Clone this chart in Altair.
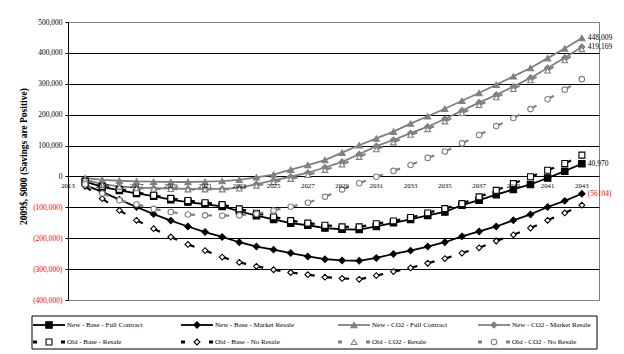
import altair as alt
import pandas as pd

years = list(range(2014, 2044))
series_names = [
    "New - Base - Full Contract", "New - Base - Market Resale",
    "New - CO2 - Full Contract", "New - CO2 - Market Resale",
    "Old - Base - Resale", "Old - Base - No Resale",
    "Old - CO2 - Resale", "Old - CO2 - No Resale",
]

new_base_full = [-17000, -34000, -45000, -55000, -64000, -75000, -83000, -90000, -97000, -112000,
                 -127000, -139000, -151000, -158000, -167000, -171000, -172000, -162000, -150000, -139000,
                 -126000, -115000, -93000, -77000, -59000, -42000, -26000, -5000, 17000, 40970]
new_base_market = [-28000, -50000, -75000, -99000, -122000, -143000, -162000, -180000, -196000, -213000,
                   -227000, -237000, -248000, -259000, -268000, -272000, -273000, -264000, -251000, -240000,
                   -227000, -213000, -194000, -178000, -162000, -142000, -123000, -99000, -79000, -56104]
new_co2_full = [-5000, -11000, -14000, -16000, -17000, -18000, -18000, -17000, -15000, -11000,
                -3000, 6000, 22000, 37000, 53000, 77000, 101000, 123000, 145000, 171000,
                195000, 219000, 245000, 270000, 297000, 324000, 351000, 383000, 414000, 448009]
new_co2_market = [-10000, -25000, -32000, -36000, -38000, -39000, -40000, -40000, -40000, -37000,
                  -25000, -13000, -1000, 12000, 29000, 47000, 72000, 98000, 118000, 140000,
                  161000, 186000, 213000, 239000, 264000, 291000, 319000, 351000, 384000, 419169]
old_base_resale = [-15000, -32000, -42000, -52000, -61000, -71000, -78000, -85000, -91000, -105000,
                   -119000, -131000, -143000, -151000, -158000, -163000, -163000, -153000, -144000, -133000,
                   -118000, -104000, -88000, -66000, -45000, -23000, -1000, 20000, 42000, 69000]
old_base_noresale = [-32000, -72000, -110000, -142000, -169000, -196000, -220000, -240000, -261000, -278000,
                     -291000, -302000, -311000, -318000, -326000, -330000, -333000, -321000, -308000, -296000,
                     -281000, -266000, -248000, -231000, -209000, -189000, -167000, -142000, -118000, -93000]
old_co2_resale = [-12000, -27000, -34000, -38000, -40000, -41000, -42000, -42000, -42000, -39000,
                  -30000, -18000, -8000, 5000, 21000, 39000, 63000, 88000, 110000, 135000,
                  153000, 178000, 205000, 231000, 256000, 283000, 311000, 343000, 376000, 412000]
old_co2_noresale = [-25000, -55000, -77000, -90000, -105000, -115000, -123000, -126000, -127000, -126000,
                    -121000, -110000, -98000, -85000, -66000, -42000, -22000, -1000, 18000, 37000,
                    60000, 81000, 107000, 134000, 163000, 189000, 218000, 250000, 281000, 315000]

all_values = [new_base_full, new_base_market, new_co2_full, new_co2_market,
              old_base_resale, old_base_noresale, old_co2_resale, old_co2_noresale]

x_tick_labels = list(range(2013, 2044, 2))
y_ticks = [500000, 400000, 300000, 200000, 100000, 0, -100000, -200000, -300000, -400000]

end_values = [448009, 419169, 40970, -56104]
end_texts = ["448,009", "419,169", "40,970", "(56104)"]
end_colors = ["#000000", "#000000", "#000000", "#ff0000"]

# styling per series
strokes = ["#000000", "#000000", "#808080", "#808080", "#000000", "#000000", "#808080", "#808080"]
fills = ["#000000", "#000000", "#808080", "#808080", "#ffffff", "#ffffff", "#ffffff", "#ffffff"]
shapes = ["square", "diamond", "triangle-up", "diamond", "square", "diamond", "triangle-up", "circle"]
sizes = [42, 30, 48, 36, 50, 50, 50, 45]

rows = []
for name, vals in zip(series_names, all_values):
    for y, v in zip(years, vals):
        rows.append({"series": name, "year": y, "value": v, "new": name.startswith("New")})
df = pd.DataFrame(rows)

FONT = "Liberation Serif"

xs = alt.Scale(domain=[2013, 2044], nice=False, zero=False)
ys = alt.Scale(domain=[-400000, 500000], nice=False, zero=False)

stroke_enc = alt.Stroke("series:N", scale=alt.Scale(domain=series_names, range=strokes), legend=None)
fill_enc = alt.Fill("series:N", scale=alt.Scale(domain=series_names, range=fills), legend=None)
shape_enc = alt.Shape("series:N", scale=alt.Scale(domain=series_names, range=shapes), legend=None)
size_enc = alt.Size("series:N", scale=alt.Scale(domain=series_names, range=sizes), legend=None)

yaxis = alt.Axis(
    values=y_ticks, tickCount=10, labelOverlap=False,
    title="2009$, $000 (Savings are Positive)",
    titleFont=FONT, titleFontSize=9.5, titleFontWeight="bold", titleColor="#000000",
    titleAngle=270, titleX=-45, titleY=134, titleAlign="center", titleBaseline="middle",
    labelFont=FONT, labelFontSize=7.5,
    labelExpr="datum.value < 0 ? '(' + format(-datum.value, ',') + ')' : format(datum.value, ',')",
    labelColor={"condition": {"test": "datum.value < 0", "value": "#ff0000"}, "value": "#000000"},
    gridColor={"condition": {"test": "datum.value == 500000 || datum.value == -400000", "value": "#808080"},
               "value": "#000000"},
    gridWidth=1, gridOpacity=1,
    domainColor="#000000", domainWidth=1,
    tickColor="#000000", tickSize=3, labelPadding=3,
)

X = alt.X("year:Q", scale=xs, axis=None)
Y = alt.Y("value:Q", scale=ys, axis=yaxis)

base = alt.Chart(df)

lines = base.transform_filter("datum.new").mark_line(strokeWidth=1.8).encode(
    x=X, y=Y, stroke=stroke_enc, detail="series:N",
)

# Old series: dashed connectors whose dash pattern restarts at each point (Excel style)
old_dash = base.transform_filter("!datum.new").transform_window(
    next_year="lead(year)", next_value="lead(value)",
    groupby=["series"], sort=[alt.SortField("year")],
).transform_filter("datum.next_year != null").mark_rule(
    strokeWidth=2.2, strokeDash=[7, 200]
).encode(
    x=X, y=Y, x2="next_year:Q", y2="next_value:Q", stroke=stroke_enc,
)

points = base.mark_point(opacity=1, strokeWidth=1.1).encode(
    x=X, y=Y, stroke=stroke_enc, fill=fill_enc, shape=shape_enc, size=size_enc,
)

xlab_df = pd.DataFrame({"year": x_tick_labels})
xlabels = alt.Chart(xlab_df).transform_calculate(value="0").mark_text(
    font=FONT, fontSize=6.8, dy=10, color="#000000"
).encode(
    x=X, y=Y, text=alt.Text("year:N"),
)

end_df = pd.DataFrame({"year": [2043] * 4, "value": end_values, "label": end_texts, "tc": end_colors})
end_labels = alt.Chart(end_df).mark_text(font=FONT, fontSize=7.5, align="left", dx=6, baseline="middle").encode(
    x=X, y=Y, text="label:N", color=alt.Color("tc:N", scale=None),
)

# Legend drawn below the plot area (layout in pixels relative to plot origin)
leg_df = pd.DataFrame({"series": series_names, "idx": list(range(8))})
leg = alt.Chart(leg_df).transform_calculate(
    col="datum.idx % 4",
    row="floor(datum.idx / 4)",
).transform_calculate(
    lx="[-35, 113, 270, 410][datum.col]",
    ly="303 + datum.row * 17",
).transform_calculate(
    lx2="datum.lx + 32",
    lm="datum.lx + 16",
    lt="datum.lx + 34",
    ldA="datum.lx + 4",
    ldB="datum.lx + 28",
)

leg_lines = leg.transform_filter("datum.row == 0").mark_rule(strokeWidth=1.8).encode(
    x=alt.X("lx:Q", scale=None), x2="lx2:Q", y=alt.Y("ly:Q", scale=None), stroke=stroke_enc,
)
leg_dash1 = leg.transform_filter("datum.row == 1").mark_rule(strokeWidth=3).encode(
    x=alt.X("lx:Q", scale=None), x2="ldA:Q", y=alt.Y("ly:Q", scale=None), stroke=stroke_enc,
)
leg_dash2 = leg.transform_filter("datum.row == 1").mark_rule(strokeWidth=3).encode(
    x=alt.X("ldB:Q", scale=None), x2="lx2:Q", y=alt.Y("ly:Q", scale=None), stroke=stroke_enc,
)
leg_pts = leg.mark_point(opacity=1, strokeWidth=1.1).encode(
    x=alt.X("lm:Q", scale=None), y=alt.Y("ly:Q", scale=None),
    stroke=stroke_enc, fill=fill_enc, shape=shape_enc, size=size_enc,
)
leg_text = leg.mark_text(font=FONT, fontSize=7, align="left", baseline="middle", color="#000000").encode(
    x=alt.X("lt:Q", scale=None), y=alt.Y("ly:Q", scale=None), text="series:N",
)
leg_box = alt.Chart(pd.DataFrame({"k": [0]})).mark_rect(fill="transparent", stroke="#000000", strokeWidth=1).encode(
    x=alt.value(-36), x2=alt.value(529), y=alt.value(294), y2=alt.value(327),
)

chart = alt.layer(
    lines, old_dash, points, xlabels, end_labels,
    leg_box, leg_lines, leg_dash1, leg_dash2, leg_pts, leg_text,
).resolve_scale(
    stroke="shared", fill="shared", shape="shared", size="shared",
).properties(
    width=531, height=278,
    autosize=alt.AutoSizeParams(type="none"),
    padding={"left": 68, "top": 22, "right": 25, "bottom": 54},
    background="#ffffff",
).configure_view(stroke="#808080", strokeWidth=1)

chart.save("out.html", embed_options={"renderer": "svg", "actions": False})
